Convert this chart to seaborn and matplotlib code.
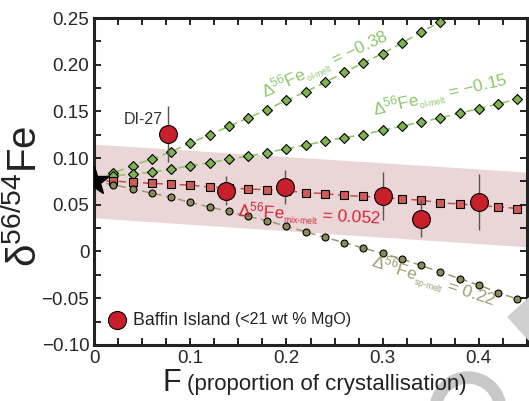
import numpy as np
import pandas as pd
import seaborn as sns
import matplotlib.pyplot as plt
from matplotlib.patches import Wedge, Polygon
from matplotlib.transforms import IdentityTransform
from matplotlib.ticker import MultipleLocator, FuncFormatter

# ------------------- Data -------------------
# model curves (proportion of crystallisation F)
f_model = [0.02, 0.04, 0.06, 0.08, 0.10, 0.12, 0.14, 0.16, 0.18, 0.20, 0.22,
           0.24, 0.26, 0.28, 0.30, 0.32, 0.34, 0.36, 0.38, 0.40, 0.42, 0.44]
f_ol38 = [0.02, 0.04, 0.06, 0.08, 0.10, 0.12, 0.14, 0.16, 0.18, 0.20, 0.22,
          0.24, 0.26, 0.28, 0.30, 0.32, 0.34, 0.36, 0.38]
d_ol38 = [0.084, 0.092, 0.099, 0.107, 0.116, 0.125, 0.134, 0.143, 0.152, 0.162,
          0.171, 0.181, 0.192, 0.202, 0.212, 0.223, 0.235, 0.246, 0.258]
d_ol15 = [0.081, 0.083, 0.085, 0.088, 0.092, 0.095, 0.099, 0.102, 0.106, 0.110,
          0.114, 0.118, 0.122, 0.125, 0.130, 0.134, 0.139, 0.143, 0.148, 0.153,
          0.158, 0.163]
d_mix = [0.0755, 0.074, 0.073, 0.072, 0.071, 0.069, 0.068, 0.067, 0.066, 0.065,
         0.063, 0.062, 0.060, 0.059, 0.058, 0.056, 0.055, 0.052, 0.051, 0.049,
         0.048, 0.046]
d_sp = [0.0715, 0.067, 0.0625, 0.058, 0.0525, 0.0476, 0.043, 0.0375, 0.033,
        0.027, 0.021, 0.015, 0.0096, 0.0036, -0.002, -0.008, -0.015, -0.022,
        -0.029, -0.036, -0.044, -0.051]

# starting melt composition (star)
f_start = 0.0
d_start = 0.075

# uncertainty band on the mixed model
band_f = [0.0, 0.45]
band_hi = [0.115, 0.085]
band_lo = [0.036, 0.005]

# Baffin Island samples
baffin_f = [0.077, 0.137, 0.198, 0.300, 0.340, 0.400]
baffin_d = [0.1255, 0.065, 0.069, 0.0595, 0.035, 0.053]
baffin_err = [0.030, 0.0155, 0.0185, 0.0255, 0.020, 0.030]

# ------------------- Style -------------------
sns.set_theme(style='ticks')
plt.rcParams['font.family'] = ['Liberation Sans', 'DejaVu Sans']
plt.rcParams['mathtext.fontset'] = 'custom'
plt.rcParams['mathtext.rm'] = 'Liberation Sans'
plt.rcParams['mathtext.it'] = 'Liberation Sans:italic'
plt.rcParams['mathtext.bf'] = 'Liberation Sans:bold'

green_line, green_face, green_txt = '#8cc45e', '#7db450', '#8dc66b'
red_line, red_face, red_txt = '#c0504d', '#cf5a57', '#d0283a'
ol_line, ol_face, ol_txt = '#9b9a6e', '#8c8a5a', '#a09e70'

fig = plt.figure(figsize=(5.29, 4.01), dpi=100)
ax = fig.add_axes([0.178, 0.140, 0.818, 0.815])

# band
ax.fill_between(band_f, band_lo, band_hi, color='#ead6d6', lw=0, zorder=0)

# model curves: dashed line from start + markers
curves = [
    (f_ol38, d_ol38, green_line, green_face, 'D', 5.0),
    (f_model, d_ol15, green_line, green_face, 'D', 5.0),
    (f_model, d_mix, red_line, red_face, 's', 5.5),
    (f_model, d_sp, ol_line, ol_face, 'o', 5.0),
]
for fx, dy, lc, fc, mk, ms in curves:
    line_df = pd.DataFrame({'F': [f_start] + list(fx), 'd': [d_start] + list(dy)})
    sns.lineplot(data=line_df, x='F', y='d', ax=ax, color=lc, lw=1.1,
                 linestyle=(0, (5, 3)), sort=False, zorder=2)
    ax.plot(fx, dy, ls='none', marker=mk, ms=ms, mfc=fc, mec='black', mew=0.8, zorder=3)

# start star
ax.plot([f_start], [d_start], marker='*', ms=22, color='black', ls='none', zorder=4)

# Baffin data
ax.errorbar(baffin_f, baffin_d, yerr=baffin_err, fmt='none', ecolor='#555555',
            elinewidth=1.0, capsize=0, zorder=4)
sns.scatterplot(x=baffin_f, y=baffin_d, ax=ax, s=165, color='#c8202a',
                edgecolor='black', linewidth=0.8, zorder=5)

ax.text(0.071, 0.133, 'DI-27', fontsize=11.5, color='#333333', ha='right', va='bottom')

# curve labels
def lab(sub, val):
    return r'$\Delta^{56}$Fe$_{_{\text{' + sub + r'}}}$ = ' + val

ax.text(0.240, 0.200, lab('ol-melt', '−0.38'), color=green_txt,
        fontsize=12.5, rotation=25, ha='center', va='center', rotation_mode='anchor')
ax.text(0.360, 0.167, lab('ol-melt', '−0.15'), color=green_txt,
        fontsize=12.5, rotation=13, ha='center', va='center', rotation_mode='anchor')
ax.text(0.224, 0.039, lab('mix-melt', '0.052'), color=red_txt,
        fontsize=12.5, rotation=-3, ha='center', va='center', rotation_mode='anchor')
ax.text(0.352, -0.034, lab('sp-melt', '0.22'), color=ol_txt,
        fontsize=12.5, rotation=-18, ha='center', va='center', rotation_mode='anchor')

# legend (manual)
ax.plot([0.053], [0.076], transform=ax.transAxes, marker='o', ms=13,
        mfc='#c8202a', mec='black', mew=0.8, ls='none', clip_on=False)
t1 = ax.text(0.09, 0.076, 'Baffin Island', transform=ax.transAxes,
             fontsize=12.8, va='center', ha='left', color='#222222')
ax.annotate('(<21 wt % MgO)', xy=(1, 0), xycoords=t1, xytext=(3, 1),
            textcoords='offset points', fontsize=11.5, va='bottom', ha='left',
            color='#222222')

# axes
ax.set_xlim(0, 0.45)
ax.set_ylim(-0.10, 0.25)
ax.xaxis.set_major_locator(MultipleLocator(0.1))
ax.xaxis.set_minor_locator(MultipleLocator(0.025))
ax.yaxis.set_major_locator(MultipleLocator(0.05))
ax.yaxis.set_minor_locator(MultipleLocator(0.025))
ax.xaxis.set_major_formatter(FuncFormatter(lambda v, p: '0' if abs(v) < 1e-9 else f'{v:.1f}'))
ax.yaxis.set_major_formatter(FuncFormatter(
    lambda v, p: '0' if abs(v) < 1e-9 else f'{v:.2f}'.replace('-', '−')))
ax.tick_params(which='both', direction='in', top=True, right=True, width=1.4,
               color='#222222', labelsize=13.5)
ax.tick_params(which='major', length=5)
ax.tick_params(which='minor', length=5)
for s in ax.spines.values():
    s.set_linewidth(2.2)
    s.set_color('#222222')

ax.set_xlabel('')
ax.set_ylabel('')
fig.text(0.342, 0.045, 'F', fontsize=22, ha='right', va='center', color='#222222', zorder=4)
fig.text(0.353, 0.040, '(proportion of crystallisation)', fontsize=16,
         ha='left', va='center', color='#222222', zorder=4)
fig.text(0.047, 0.51, 'δ$^{56/54}$Fe', fontsize=29, rotation=90,
         ha='center', va='center', color='#222222')

# grey watermark shapes in the lower right corner (behind the x label)
fig.patches.append(Wedge((468, -9), 38, 0, 180, width=11, color='#c8c8c8',
                         transform=IdentityTransform(), zorder=2.5))
fig.patches.append(Polygon([(529, 103), (508, 84), (529, 61)], closed=True,
                           color='#cfcfcf', transform=IdentityTransform(), zorder=2.5))

fig.savefig('out.png', dpi=100)
